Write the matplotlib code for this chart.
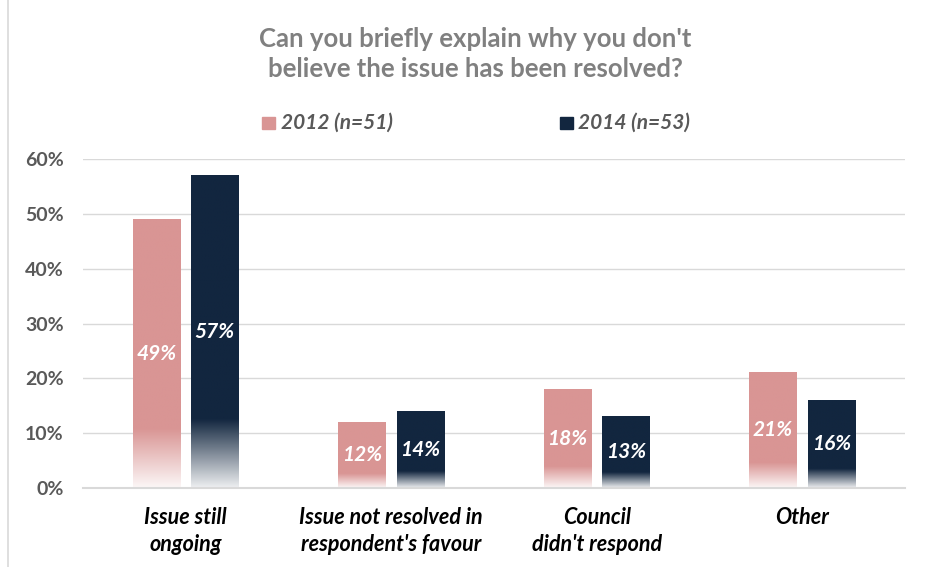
import numpy as np
import matplotlib
matplotlib.use("Agg")
import matplotlib.pyplot as plt
from matplotlib.colors import to_rgb, LinearSegmentedColormap
from matplotlib.patches import Rectangle

plt.rcParams['font.family'] = ['Lato', 'DejaVu Sans']

categories = ["Issue still\nongoing", "Issue not resolved in\nrespondent's favour",
              "Council\ndidn't respond", "Other"]
series_names = ["2012 (n=51)", "2014 (n=53)"]
values_2012 = [49, 12, 18, 21]
values_2014 = [57, 14, 13, 16]
y_ticks = [0, 10, 20, 30, 40, 50, 60]
title = "Can you briefly explain why you don't\nbelieve the issue has been resolved?"

colors = ["#D99594", "#12263F"]
grey_text = "#595959"

fig = plt.figure(figsize=(9.3, 5.67), dpi=100)
ax = fig.add_axes([0.0892, 0.1393, 0.8838, 0.5803])

x = np.arange(len(categories))
width = 0.23
gap = 0.054
offsets = [-(width + gap) / 2, (width + gap) / 2]

fade_frac = 0.22
for vals, col, off in zip([values_2012, values_2014], colors, offsets):
    bars = ax.bar(x + off, vals, width, color=col, zorder=2)
    rgb = np.array(to_rgb(col))
    light = 0.92 * np.ones(3) + 0.08 * rgb
    cmap = LinearSegmentedColormap.from_list("fade", [light, rgb])
    for b, v in zip(bars, vals):
        b.set_visible(False)
        x0 = b.get_x()
        w = b.get_width()
        h = b.get_height()
        grad = np.linspace(0, 1, 200)
        grad = np.clip(grad / fade_frac, 0, 1)[:, None]
        ax.imshow(grad, cmap=cmap, aspect='auto', origin='lower',
                  extent=[x0, x0 + w, 0, h], zorder=2, interpolation='bilinear')
        ax.text(x0 + w / 2, h / 2, f"{v}%", ha='center', va='center',
                color='white', fontsize=15, fontweight='bold', fontstyle='italic',
                zorder=3)

ax.set_xlim(-0.5, len(categories) - 0.5)
ax.set_ylim(0, 60)
ax.set_yticks(y_ticks)
ax.set_yticklabels([f"{t}%" for t in y_ticks])
ax.set_xticks(x)
ax.set_xticklabels(categories)
for lbl in ax.get_xticklabels():
    lbl.set_fontstyle('italic')
    lbl.set_fontweight('bold')
    lbl.set_fontsize(15.5)
    lbl.set_color('black')
    lbl.set_linespacing(1.35)
for lbl in ax.get_yticklabels():
    lbl.set_fontweight('bold')
    lbl.set_fontsize(14)
    lbl.set_color(grey_text)

ax.tick_params(axis='both', length=0)
ax.tick_params(axis='y', pad=14)
ax.tick_params(axis='x', pad=14)
ax.grid(axis='y', color='#D9D9D9', linewidth=1.0, zorder=0)
ax.set_axisbelow(True)
for s in ['top', 'right', 'left']:
    ax.spines[s].set_visible(False)
ax.spines['bottom'].set_color('#D9D9D9')
ax.spines['bottom'].set_linewidth(1.5)

fig.text(0.511, 0.905, title, ha='center', va='center', fontsize=18.5,
         fontweight='bold', color='#808080', linespacing=1.3)

# legend
leg_y = 0.783
for name, col, xs in zip(series_names, colors, [0.282, 0.602]):
    fig.patches.append(Rectangle((xs, leg_y - 0.011), 0.014, 0.022,
                                 transform=fig.transFigure, color=col))
    fig.text(xs + 0.020, leg_y, name, ha='left', va='center', fontsize=15,
             fontweight='bold', fontstyle='italic', color=grey_text)

# chart border
fig.patches.append(Rectangle((0.009, -0.01), 1.0, 1.02, transform=fig.transFigure,
                             fill=False, edgecolor='#D9D9D9', linewidth=1.2))

fig.savefig("out.png", dpi=100)
